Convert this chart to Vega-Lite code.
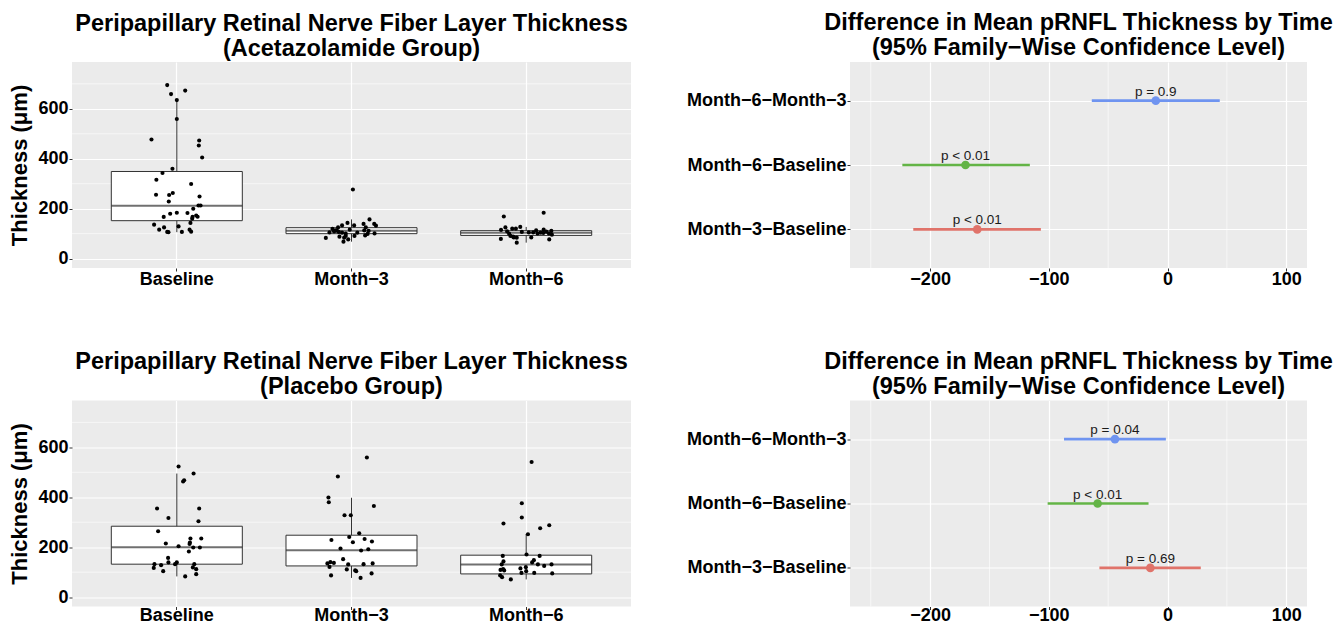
{
  "$schema": "https://vega.github.io/schema/vega-lite/v6.json",
  "background": "white",
  "padding": {"left": 8, "top": 11, "right": 0, "bottom": 0},
  "config": {
    "font": "Liberation Sans",
    "view": {"fill": "#EBEBEB", "stroke": null},
    "title": {"font": "Liberation Sans", "fontSize": 23.5, "fontWeight": "bold", "color": "black", "anchor": "middle", "offset": 2, "lineHeight": 25},
    "axis": {"labelFont": "Liberation Sans", "labelFontWeight": "bold", "labelFontSize": 18, "labelColor": "black", "tickColor": "#333333", "tickSize": 3, "tickWidth": 1, "domain": false, "gridColor": "white", "gridWidth": 1.2, "labelPadding": 1, "titleFont": "Liberation Sans", "titleFontSize": 22, "titleFontWeight": "bold", "titleColor": "black", "titlePadding": 6},
    "axisX": {"labelPadding": -1}
  },
  "datasets": {
    "points": [
      {"group": "Acetazolamide", "time": "Baseline", "thickness": 695, "jitter": -0.055},
      {"group": "Acetazolamide", "time": "Baseline", "thickness": 673, "jitter": 0.048},
      {"group": "Acetazolamide", "time": "Baseline", "thickness": 659, "jitter": -0.033},
      {"group": "Acetazolamide", "time": "Baseline", "thickness": 635, "jitter": 0.0},
      {"group": "Acetazolamide", "time": "Baseline", "thickness": 559, "jitter": 0.0},
      {"group": "Acetazolamide", "time": "Baseline", "thickness": 477, "jitter": -0.145},
      {"group": "Acetazolamide", "time": "Baseline", "thickness": 473, "jitter": 0.128},
      {"group": "Acetazolamide", "time": "Baseline", "thickness": 453, "jitter": 0.126},
      {"group": "Acetazolamide", "time": "Baseline", "thickness": 405, "jitter": 0.145},
      {"group": "Acetazolamide", "time": "Baseline", "thickness": 360, "jitter": -0.025},
      {"group": "Acetazolamide", "time": "Baseline", "thickness": 343, "jitter": -0.082},
      {"group": "Acetazolamide", "time": "Baseline", "thickness": 316, "jitter": -0.117},
      {"group": "Acetazolamide", "time": "Baseline", "thickness": 299, "jitter": 0.082},
      {"group": "Acetazolamide", "time": "Baseline", "thickness": 263, "jitter": -0.023},
      {"group": "Acetazolamide", "time": "Baseline", "thickness": 256, "jitter": -0.119},
      {"group": "Acetazolamide", "time": "Baseline", "thickness": 255, "jitter": -0.044},
      {"group": "Acetazolamide", "time": "Baseline", "thickness": 249, "jitter": 0.130},
      {"group": "Acetazolamide", "time": "Baseline", "thickness": 229, "jitter": -0.046},
      {"group": "Acetazolamide", "time": "Baseline", "thickness": 213, "jitter": 0.124},
      {"group": "Acetazolamide", "time": "Baseline", "thickness": 213, "jitter": 0.136},
      {"group": "Acetazolamide", "time": "Baseline", "thickness": 200, "jitter": 0.094},
      {"group": "Acetazolamide", "time": "Baseline", "thickness": 184, "jitter": 0.0},
      {"group": "Acetazolamide", "time": "Baseline", "thickness": 180, "jitter": -0.038},
      {"group": "Acetazolamide", "time": "Baseline", "thickness": 183, "jitter": 0.061},
      {"group": "Acetazolamide", "time": "Baseline", "thickness": 173, "jitter": 0.111},
      {"group": "Acetazolamide", "time": "Baseline", "thickness": 167, "jitter": 0.090},
      {"group": "Acetazolamide", "time": "Baseline", "thickness": 168, "jitter": 0.119},
      {"group": "Acetazolamide", "time": "Baseline", "thickness": 167, "jitter": -0.075},
      {"group": "Acetazolamide", "time": "Baseline", "thickness": 160, "jitter": 0.088},
      {"group": "Acetazolamide", "time": "Baseline", "thickness": 143, "jitter": 0.078},
      {"group": "Acetazolamide", "time": "Baseline", "thickness": 136, "jitter": -0.130},
      {"group": "Acetazolamide", "time": "Baseline", "thickness": 129, "jitter": 0.010},
      {"group": "Acetazolamide", "time": "Baseline", "thickness": 125, "jitter": -0.073},
      {"group": "Acetazolamide", "time": "Baseline", "thickness": 116, "jitter": -0.101},
      {"group": "Acetazolamide", "time": "Baseline", "thickness": 116, "jitter": 0.073},
      {"group": "Acetazolamide", "time": "Baseline", "thickness": 107, "jitter": -0.055},
      {"group": "Acetazolamide", "time": "Baseline", "thickness": 106, "jitter": -0.048},
      {"group": "Acetazolamide", "time": "Baseline", "thickness": 107, "jitter": 0.029},
      {"group": "Acetazolamide", "time": "Baseline", "thickness": 108, "jitter": 0.082},
      {"group": "Acetazolamide", "time": "Month−3", "thickness": 277, "jitter": 0.008},
      {"group": "Acetazolamide", "time": "Month−3", "thickness": 157, "jitter": 0.103},
      {"group": "Acetazolamide", "time": "Month−3", "thickness": 143, "jitter": -0.023},
      {"group": "Acetazolamide", "time": "Month−3", "thickness": 139, "jitter": 0.130},
      {"group": "Acetazolamide", "time": "Month−3", "thickness": 132, "jitter": 0.140},
      {"group": "Acetazolamide", "time": "Month−3", "thickness": 139, "jitter": 0.069},
      {"group": "Acetazolamide", "time": "Month−3", "thickness": 133, "jitter": 0.015},
      {"group": "Acetazolamide", "time": "Month−3", "thickness": 133, "jitter": -0.054},
      {"group": "Acetazolamide", "time": "Month−3", "thickness": 125, "jitter": 0.082},
      {"group": "Acetazolamide", "time": "Month−3", "thickness": 125, "jitter": -0.077},
      {"group": "Acetazolamide", "time": "Month−3", "thickness": 119, "jitter": -0.109},
      {"group": "Acetazolamide", "time": "Month−3", "thickness": 116, "jitter": -0.010},
      {"group": "Acetazolamide", "time": "Month−3", "thickness": 113, "jitter": 0.073},
      {"group": "Acetazolamide", "time": "Month−3", "thickness": 111, "jitter": 0.098},
      {"group": "Acetazolamide", "time": "Month−3", "thickness": 112, "jitter": -0.084},
      {"group": "Acetazolamide", "time": "Month−3", "thickness": 105, "jitter": -0.126},
      {"group": "Acetazolamide", "time": "Month−3", "thickness": 107, "jitter": -0.073},
      {"group": "Acetazolamide", "time": "Month−3", "thickness": 104, "jitter": -0.054},
      {"group": "Acetazolamide", "time": "Month−3", "thickness": 100, "jitter": -0.033},
      {"group": "Acetazolamide", "time": "Month−3", "thickness": 104, "jitter": 0.033},
      {"group": "Acetazolamide", "time": "Month−3", "thickness": 101, "jitter": 0.132},
      {"group": "Acetazolamide", "time": "Month−3", "thickness": 99, "jitter": 0.092},
      {"group": "Acetazolamide", "time": "Month−3", "thickness": 93, "jitter": 0.078},
      {"group": "Acetazolamide", "time": "Month−3", "thickness": 88, "jitter": -0.069},
      {"group": "Acetazolamide", "time": "Month−3", "thickness": 91, "jitter": -0.033},
      {"group": "Acetazolamide", "time": "Month−3", "thickness": 91, "jitter": 0.017},
      {"group": "Acetazolamide", "time": "Month−3", "thickness": 83, "jitter": -0.147},
      {"group": "Acetazolamide", "time": "Month−3", "thickness": 84, "jitter": -0.042},
      {"group": "Acetazolamide", "time": "Month−3", "thickness": 77, "jitter": -0.019},
      {"group": "Acetazolamide", "time": "Month−3", "thickness": 68, "jitter": -0.046},
      {"group": "Acetazolamide", "time": "Month−3", "thickness": 113, "jitter": -0.092},
      {"group": "Acetazolamide", "time": "Month−3", "thickness": 109, "jitter": -0.100},
      {"group": "Acetazolamide", "time": "Month−6", "thickness": 184, "jitter": 0.100},
      {"group": "Acetazolamide", "time": "Month−6", "thickness": 169, "jitter": -0.128},
      {"group": "Acetazolamide", "time": "Month−6", "thickness": 125, "jitter": -0.119},
      {"group": "Acetazolamide", "time": "Month−6", "thickness": 127, "jitter": -0.034},
      {"group": "Acetazolamide", "time": "Month−6", "thickness": 120, "jitter": -0.080},
      {"group": "Acetazolamide", "time": "Month−6", "thickness": 120, "jitter": -0.059},
      {"group": "Acetazolamide", "time": "Month−6", "thickness": 115, "jitter": -0.144},
      {"group": "Acetazolamide", "time": "Month−6", "thickness": 113, "jitter": 0.057},
      {"group": "Acetazolamide", "time": "Month−6", "thickness": 116, "jitter": 0.100},
      {"group": "Acetazolamide", "time": "Month−6", "thickness": 111, "jitter": 0.144},
      {"group": "Acetazolamide", "time": "Month−6", "thickness": 109, "jitter": -0.109},
      {"group": "Acetazolamide", "time": "Month−6", "thickness": 107, "jitter": -0.025},
      {"group": "Acetazolamide", "time": "Month−6", "thickness": 105, "jitter": 0.015},
      {"group": "Acetazolamide", "time": "Month−6", "thickness": 105, "jitter": 0.040},
      {"group": "Acetazolamide", "time": "Month−6", "thickness": 101, "jitter": 0.065},
      {"group": "Acetazolamide", "time": "Month−6", "thickness": 108, "jitter": 0.115},
      {"group": "Acetazolamide", "time": "Month−6", "thickness": 104, "jitter": 0.082},
      {"group": "Acetazolamide", "time": "Month−6", "thickness": 101, "jitter": 0.130},
      {"group": "Acetazolamide", "time": "Month−6", "thickness": 96, "jitter": 0.147},
      {"group": "Acetazolamide", "time": "Month−6", "thickness": 100, "jitter": -0.098},
      {"group": "Acetazolamide", "time": "Month−6", "thickness": 91, "jitter": -0.090},
      {"group": "Acetazolamide", "time": "Month−6", "thickness": 88, "jitter": -0.075},
      {"group": "Acetazolamide", "time": "Month−6", "thickness": 84, "jitter": -0.054},
      {"group": "Acetazolamide", "time": "Month−6", "thickness": 85, "jitter": 0.029},
      {"group": "Acetazolamide", "time": "Month−6", "thickness": 79, "jitter": -0.145},
      {"group": "Acetazolamide", "time": "Month−6", "thickness": 77, "jitter": 0.132},
      {"group": "Acetazolamide", "time": "Month−6", "thickness": 64, "jitter": -0.054},
      {"group": "Acetazolamide", "time": "Month−6", "thickness": 85, "jitter": -0.071},
      {"group": "Acetazolamide", "time": "Month−6", "thickness": 103, "jitter": 0.098},
      {"group": "Placebo", "time": "Baseline", "thickness": 523, "jitter": 0.010},
      {"group": "Placebo", "time": "Baseline", "thickness": 495, "jitter": 0.096},
      {"group": "Placebo", "time": "Baseline", "thickness": 468, "jitter": 0.042},
      {"group": "Placebo", "time": "Baseline", "thickness": 463, "jitter": 0.036},
      {"group": "Placebo", "time": "Baseline", "thickness": 355, "jitter": -0.113},
      {"group": "Placebo", "time": "Baseline", "thickness": 355, "jitter": 0.128},
      {"group": "Placebo", "time": "Baseline", "thickness": 317, "jitter": -0.048},
      {"group": "Placebo", "time": "Baseline", "thickness": 304, "jitter": 0.124},
      {"group": "Placebo", "time": "Baseline", "thickness": 264, "jitter": -0.107},
      {"group": "Placebo", "time": "Baseline", "thickness": 235, "jitter": 0.140},
      {"group": "Placebo", "time": "Baseline", "thickness": 235, "jitter": 0.078},
      {"group": "Placebo", "time": "Baseline", "thickness": 219, "jitter": 0.075},
      {"group": "Placebo", "time": "Baseline", "thickness": 213, "jitter": 0.073},
      {"group": "Placebo", "time": "Baseline", "thickness": 215, "jitter": -0.063},
      {"group": "Placebo", "time": "Baseline", "thickness": 204, "jitter": 0.010},
      {"group": "Placebo", "time": "Baseline", "thickness": 199, "jitter": 0.132},
      {"group": "Placebo", "time": "Baseline", "thickness": 199, "jitter": 0.094},
      {"group": "Placebo", "time": "Baseline", "thickness": 183, "jitter": 0.069},
      {"group": "Placebo", "time": "Baseline", "thickness": 157, "jitter": -0.050},
      {"group": "Placebo", "time": "Baseline", "thickness": 139, "jitter": -0.048},
      {"group": "Placebo", "time": "Baseline", "thickness": 139, "jitter": 0.0},
      {"group": "Placebo", "time": "Baseline", "thickness": 132, "jitter": -0.010},
      {"group": "Placebo", "time": "Baseline", "thickness": 132, "jitter": -0.128},
      {"group": "Placebo", "time": "Baseline", "thickness": 128, "jitter": -0.090},
      {"group": "Placebo", "time": "Baseline", "thickness": 132, "jitter": 0.100},
      {"group": "Placebo", "time": "Baseline", "thickness": 117, "jitter": -0.132},
      {"group": "Placebo", "time": "Baseline", "thickness": 119, "jitter": 0.092},
      {"group": "Placebo", "time": "Baseline", "thickness": 112, "jitter": 0.111},
      {"group": "Placebo", "time": "Baseline", "thickness": 104, "jitter": -0.078},
      {"group": "Placebo", "time": "Baseline", "thickness": 92, "jitter": 0.111},
      {"group": "Placebo", "time": "Baseline", "thickness": 83, "jitter": 0.048},
      {"group": "Placebo", "time": "Month−3", "thickness": 559, "jitter": 0.088},
      {"group": "Placebo", "time": "Month−3", "thickness": 483, "jitter": -0.078},
      {"group": "Placebo", "time": "Month−3", "thickness": 399, "jitter": -0.132},
      {"group": "Placebo", "time": "Month−3", "thickness": 380, "jitter": -0.130},
      {"group": "Placebo", "time": "Month−3", "thickness": 365, "jitter": 0.128},
      {"group": "Placebo", "time": "Month−3", "thickness": 328, "jitter": -0.040},
      {"group": "Placebo", "time": "Month−3", "thickness": 328, "jitter": -0.004},
      {"group": "Placebo", "time": "Month−3", "thickness": 256, "jitter": 0.044},
      {"group": "Placebo", "time": "Month−3", "thickness": 241, "jitter": -0.013},
      {"group": "Placebo", "time": "Month−3", "thickness": 233, "jitter": 0.075},
      {"group": "Placebo", "time": "Month−3", "thickness": 229, "jitter": -0.115},
      {"group": "Placebo", "time": "Month−3", "thickness": 223, "jitter": 0.117},
      {"group": "Placebo", "time": "Month−3", "thickness": 220, "jitter": 0.008},
      {"group": "Placebo", "time": "Month−3", "thickness": 195, "jitter": -0.063},
      {"group": "Placebo", "time": "Month−3", "thickness": 192, "jitter": 0.096},
      {"group": "Placebo", "time": "Month−3", "thickness": 187, "jitter": 0.055},
      {"group": "Placebo", "time": "Month−3", "thickness": 152, "jitter": -0.048},
      {"group": "Placebo", "time": "Month−3", "thickness": 140, "jitter": -0.121},
      {"group": "Placebo", "time": "Month−3", "thickness": 137, "jitter": -0.101},
      {"group": "Placebo", "time": "Month−3", "thickness": 135, "jitter": -0.138},
      {"group": "Placebo", "time": "Month−3", "thickness": 135, "jitter": 0.121},
      {"group": "Placebo", "time": "Month−3", "thickness": 132, "jitter": 0.069},
      {"group": "Placebo", "time": "Month−3", "thickness": 131, "jitter": -0.019},
      {"group": "Placebo", "time": "Month−3", "thickness": 121, "jitter": -0.126},
      {"group": "Placebo", "time": "Month−3", "thickness": 111, "jitter": -0.027},
      {"group": "Placebo", "time": "Month−3", "thickness": 107, "jitter": 0.021},
      {"group": "Placebo", "time": "Month−3", "thickness": 104, "jitter": 0.027},
      {"group": "Placebo", "time": "Month−3", "thickness": 95, "jitter": 0.115},
      {"group": "Placebo", "time": "Month−3", "thickness": 87, "jitter": -0.117},
      {"group": "Placebo", "time": "Month−3", "thickness": 77, "jitter": 0.052},
      {"group": "Placebo", "time": "Month−6", "thickness": 541, "jitter": 0.031},
      {"group": "Placebo", "time": "Month−6", "thickness": 376, "jitter": -0.025},
      {"group": "Placebo", "time": "Month−6", "thickness": 319, "jitter": -0.025},
      {"group": "Placebo", "time": "Month−6", "thickness": 295, "jitter": -0.130},
      {"group": "Placebo", "time": "Month−6", "thickness": 288, "jitter": 0.132},
      {"group": "Placebo", "time": "Month−6", "thickness": 276, "jitter": 0.080},
      {"group": "Placebo", "time": "Month−6", "thickness": 252, "jitter": 0.010},
      {"group": "Placebo", "time": "Month−6", "thickness": 171, "jitter": 0.002},
      {"group": "Placebo", "time": "Month−6", "thickness": 165, "jitter": -0.134},
      {"group": "Placebo", "time": "Month−6", "thickness": 165, "jitter": 0.077},
      {"group": "Placebo", "time": "Month−6", "thickness": 148, "jitter": 0.044},
      {"group": "Placebo", "time": "Month−6", "thickness": 143, "jitter": -0.130},
      {"group": "Placebo", "time": "Month−6", "thickness": 139, "jitter": 0.034},
      {"group": "Placebo", "time": "Month−6", "thickness": 131, "jitter": 0.067},
      {"group": "Placebo", "time": "Month−6", "thickness": 131, "jitter": 0.145},
      {"group": "Placebo", "time": "Month−6", "thickness": 125, "jitter": 0.103},
      {"group": "Placebo", "time": "Month−6", "thickness": 131, "jitter": -0.140},
      {"group": "Placebo", "time": "Month−6", "thickness": 120, "jitter": -0.002},
      {"group": "Placebo", "time": "Month−6", "thickness": 115, "jitter": -0.033},
      {"group": "Placebo", "time": "Month−6", "thickness": 112, "jitter": -0.132},
      {"group": "Placebo", "time": "Month−6", "thickness": 109, "jitter": -0.147},
      {"group": "Placebo", "time": "Month−6", "thickness": 107, "jitter": -0.126},
      {"group": "Placebo", "time": "Month−6", "thickness": 104, "jitter": 0.0},
      {"group": "Placebo", "time": "Month−6", "thickness": 97, "jitter": -0.027},
      {"group": "Placebo", "time": "Month−6", "thickness": 97, "jitter": 0.046},
      {"group": "Placebo", "time": "Month−6", "thickness": 95, "jitter": 0.149},
      {"group": "Placebo", "time": "Month−6", "thickness": 87, "jitter": -0.149},
      {"group": "Placebo", "time": "Month−6", "thickness": 80, "jitter": -0.138},
      {"group": "Placebo", "time": "Month−6", "thickness": 71, "jitter": -0.088}
    ],
    "boxes": [
      {"group": "Acetazolamide", "time": "Baseline", "lower": 106, "q1": 152, "median": 212, "q3": 349, "upper": 635},
      {"group": "Acetazolamide", "time": "Month−3", "lower": 68, "q1": 100, "median": 112, "q3": 124, "upper": 157},
      {"group": "Acetazolamide", "time": "Month−6", "lower": 64, "q1": 93, "median": 104, "q3": 112, "upper": 127},
      {"group": "Placebo", "time": "Baseline", "lower": 83, "q1": 132, "median": 200, "q3": 284, "upper": 495},
      {"group": "Placebo", "time": "Month−3", "lower": 77, "q1": 125, "median": 188, "q3": 248, "upper": 398},
      {"group": "Placebo", "time": "Month−6", "lower": 71, "q1": 93, "median": 131, "q3": 168, "upper": 252}
    ],
    "ygrid": [{"v": 100}, {"v": 300}, {"v": 500}, {"v": 700}],
    "xgrid": [{"v": -250}, {"v": -150}, {"v": -50}, {"v": 50}],
    "diffs": [
      {"group": "Acetazolamide", "comparison": "Month−6−Month−3", "estimate": -9.9, "lwr": -63.8, "upr": 44.0, "p": "p = 0.9"},
      {"group": "Acetazolamide", "comparison": "Month−6−Baseline", "estimate": -170.2, "lwr": -223.4, "upr": -116.0, "p": "p < 0.01"},
      {"group": "Acetazolamide", "comparison": "Month−3−Baseline", "estimate": -160.3, "lwr": -214.2, "upr": -106.7, "p": "p < 0.01"},
      {"group": "Placebo", "comparison": "Month−6−Month−3", "estimate": -44.3, "lwr": -87.2, "upr": -1.4, "p": "p = 0.04"},
      {"group": "Placebo", "comparison": "Month−6−Baseline", "estimate": -58.9, "lwr": -101.0, "upr": -16.0, "p": "p < 0.01"},
      {"group": "Placebo", "comparison": "Month−3−Baseline", "estimate": -14.5, "lwr": -57.4, "upr": 28.0, "p": "p = 0.69"}
    ]
  },
  "columns": 2,
  "spacing": {"column": 54, "row": 61.5},
  "concat": [
    {
      "width": 559, "height": 206,
      "title": {"text": ["Peripapillary Retinal Nerve Fiber Layer Thickness", "(Acetazolamide Group)"]},
      "encoding": {
        "x": {"field": "time", "type": "nominal", "sort": ["Baseline", "Month−3", "Month−6"],
              "scale": {"type": "band", "paddingInner": 0.25, "paddingOuter": 0.225},
              "axis": {"title": null, "labelAngle": 0, "grid": true, "bandPosition": 0.5}}
      },
      "resolve": {"scale": {"xOffset": "independent"}},
      "layer": [
        {"data": {"name": "ygrid"}, "mark": {"type": "rule", "color": "white", "strokeWidth": 0.6},
         "encoding": {"x": null, "y": {"field": "v", "type": "quantitative"}}},
        {"data": {"name": "boxes"}, "transform": [{"filter": "datum.group == 'Acetazolamide'"}],
         "mark": {"type": "rule", "color": "#333333", "strokeWidth": 1},
         "encoding": {"y": {"field": "lower", "type": "quantitative",
                            "scale": {"domain": [-37.5, 787.5], "nice": false, "zero": false},
                            "axis": {"title": "Thickness (μm)", "values": [0, 200, 400, 600], "grid": true}},
                      "y2": {"field": "upper"}}},
        {"data": {"name": "boxes"}, "transform": [{"filter": "datum.group == 'Acetazolamide'"}],
         "mark": {"type": "bar", "fill": "white", "stroke": "#333333", "strokeWidth": 1},
         "encoding": {"y": {"field": "q1", "type": "quantitative"}, "y2": {"field": "q3"}}},
        {"data": {"name": "boxes"}, "transform": [{"filter": "datum.group == 'Acetazolamide'"}],
         "mark": {"type": "tick", "color": "#333333", "thickness": 2, "orient": "horizontal"},
         "encoding": {"y": {"field": "median", "type": "quantitative"}}},
        {"data": {"name": "points"}, "transform": [{"filter": "datum.group == 'Acetazolamide'"}],
         "mark": {"type": "circle", "color": "black", "opacity": 1, "size": 17},
         "encoding": {"y": {"field": "thickness", "type": "quantitative"},
                      "xOffset": {"field": "jitter", "type": "quantitative", "scale": {"domain": [-0.375, 0.375]}}}}
      ]
    },
    {
      "width": 457, "height": 206,
      "title": {"text": ["Difference in Mean pRNFL Thickness by Time", "(95% Family−Wise Confidence Level)"]},
      "layer": [
        {"data": {"name": "xgrid"}, "mark": {"type": "rule", "color": "white", "strokeWidth": 0.6},
         "encoding": {"x": {"field": "v", "type": "quantitative"}}},
        {"data": {"name": "diffs"}, "transform": [{"filter": "datum.group == 'Acetazolamide'"}],
         "mark": {"type": "rule", "strokeWidth": 2.7},
         "encoding": {
           "x": {"field": "lwr", "type": "quantitative", "scale": {"domain": [-267.5, 117.5], "nice": false, "zero": false},
                 "axis": {"title": null, "values": [-200, -100, 0, 100], "grid": true}},
           "x2": {"field": "upr"},
           "y": {"field": "comparison", "type": "nominal", "sort": ["Month−6−Month−3", "Month−6−Baseline", "Month−3−Baseline"],
                 "scale": {"type": "point", "padding": 0.6}, "axis": {"title": null, "grid": true}},
           "color": {"field": "comparison", "type": "nominal", "legend": null,
                     "scale": {"domain": ["Month−3−Baseline", "Month−6−Baseline", "Month−6−Month−3"], "range": ["#E0736A", "#63B446", "#6F94F0"]}}}},
        {"data": {"name": "diffs"}, "transform": [{"filter": "datum.group == 'Acetazolamide'"}],
         "mark": {"type": "circle", "size": 75, "opacity": 1},
         "encoding": {"x": {"field": "estimate", "type": "quantitative"}, "y": {"field": "comparison", "type": "nominal", "sort": ["Month−6−Month−3", "Month−6−Baseline", "Month−3−Baseline"]},
                      "color": {"field": "comparison", "type": "nominal", "legend": null}}},
        {"mark": {"type": "rule", "color": "#222222", "strokeWidth": 1, "strokeDash": [4, 3]},
         "encoding": {"x": {"datum": 0}}},
        {"data": {"name": "diffs"}, "transform": [{"filter": "datum.group == 'Acetazolamide'"}],
         "mark": {"type": "text", "fontSize": 13.5, "color": "#1A1A1A", "baseline": "alphabetic", "dy": -5, "font": "Liberation Sans"},
         "encoding": {"x": {"field": "estimate", "type": "quantitative"}, "y": {"field": "comparison", "type": "nominal", "sort": ["Month−6−Month−3", "Month−6−Baseline", "Month−3−Baseline"]},
                      "text": {"field": "p"}}}
      ]
    },
    {
      "width": 559, "height": 206,
      "title": {"text": ["Peripapillary Retinal Nerve Fiber Layer Thickness", "(Placebo Group)"]},
      "encoding": {
        "x": {"field": "time", "type": "nominal", "sort": ["Baseline", "Month−3", "Month−6"],
              "scale": {"type": "band", "paddingInner": 0.25, "paddingOuter": 0.225},
              "axis": {"title": null, "labelAngle": 0, "grid": true, "bandPosition": 0.5, "labelPadding": -3}}
      },
      "resolve": {"scale": {"xOffset": "independent"}},
      "layer": [
        {"data": {"name": "ygrid"}, "mark": {"type": "rule", "color": "white", "strokeWidth": 0.6},
         "encoding": {"x": null, "y": {"field": "v", "type": "quantitative"}}},
        {"data": {"name": "boxes"}, "transform": [{"filter": "datum.group == 'Placebo'"}],
         "mark": {"type": "rule", "color": "#333333", "strokeWidth": 1},
         "encoding": {"y": {"field": "lower", "type": "quantitative",
                            "scale": {"domain": [-37.5, 787.5], "nice": false, "zero": false},
                            "axis": {"title": "Thickness (μm)", "values": [0, 200, 400, 600], "grid": true}},
                      "y2": {"field": "upper"}}},
        {"data": {"name": "boxes"}, "transform": [{"filter": "datum.group == 'Placebo'"}],
         "mark": {"type": "bar", "fill": "white", "stroke": "#333333", "strokeWidth": 1},
         "encoding": {"y": {"field": "q1", "type": "quantitative"}, "y2": {"field": "q3"}}},
        {"data": {"name": "boxes"}, "transform": [{"filter": "datum.group == 'Placebo'"}],
         "mark": {"type": "tick", "color": "#333333", "thickness": 2, "orient": "horizontal"},
         "encoding": {"y": {"field": "median", "type": "quantitative"}}},
        {"data": {"name": "points"}, "transform": [{"filter": "datum.group == 'Placebo'"}],
         "mark": {"type": "circle", "color": "black", "opacity": 1, "size": 17},
         "encoding": {"y": {"field": "thickness", "type": "quantitative"},
                      "xOffset": {"field": "jitter", "type": "quantitative", "scale": {"domain": [-0.375, 0.375]}}}}
      ]
    },
    {
      "width": 457, "height": 206,
      "title": {"text": ["Difference in Mean pRNFL Thickness by Time", "(95% Family−Wise Confidence Level)"]},
      "layer": [
        {"data": {"name": "xgrid"}, "mark": {"type": "rule", "color": "white", "strokeWidth": 0.6},
         "encoding": {"x": {"field": "v", "type": "quantitative"}}},
        {"data": {"name": "diffs"}, "transform": [{"filter": "datum.group == 'Placebo'"}],
         "mark": {"type": "rule", "strokeWidth": 2.7},
         "encoding": {
           "x": {"field": "lwr", "type": "quantitative", "scale": {"domain": [-267.5, 117.5], "nice": false, "zero": false},
                 "axis": {"title": null, "values": [-200, -100, 0, 100], "grid": true, "labelPadding": -3}},
           "x2": {"field": "upr"},
           "y": {"field": "comparison", "type": "nominal", "sort": ["Month−6−Month−3", "Month−6−Baseline", "Month−3−Baseline"],
                 "scale": {"type": "point", "padding": 0.6}, "axis": {"title": null, "grid": true}},
           "color": {"field": "comparison", "type": "nominal", "legend": null,
                     "scale": {"domain": ["Month−3−Baseline", "Month−6−Baseline", "Month−6−Month−3"], "range": ["#E0736A", "#63B446", "#6F94F0"]}}}},
        {"data": {"name": "diffs"}, "transform": [{"filter": "datum.group == 'Placebo'"}],
         "mark": {"type": "circle", "size": 75, "opacity": 1},
         "encoding": {"x": {"field": "estimate", "type": "quantitative"}, "y": {"field": "comparison", "type": "nominal", "sort": ["Month−6−Month−3", "Month−6−Baseline", "Month−3−Baseline"]},
                      "color": {"field": "comparison", "type": "nominal", "legend": null}}},
        {"mark": {"type": "rule", "color": "#222222", "strokeWidth": 1, "strokeDash": [4, 3]},
         "encoding": {"x": {"datum": 0}}},
        {"data": {"name": "diffs"}, "transform": [{"filter": "datum.group == 'Placebo'"}],
         "mark": {"type": "text", "fontSize": 13.5, "color": "#1A1A1A", "baseline": "alphabetic", "dy": -5, "font": "Liberation Sans"},
         "encoding": {"x": {"field": "estimate", "type": "quantitative"}, "y": {"field": "comparison", "type": "nominal", "sort": ["Month−6−Month−3", "Month−6−Baseline", "Month−3−Baseline"]},
                      "text": {"field": "p"}}}
      ]
    }
  ]
}
